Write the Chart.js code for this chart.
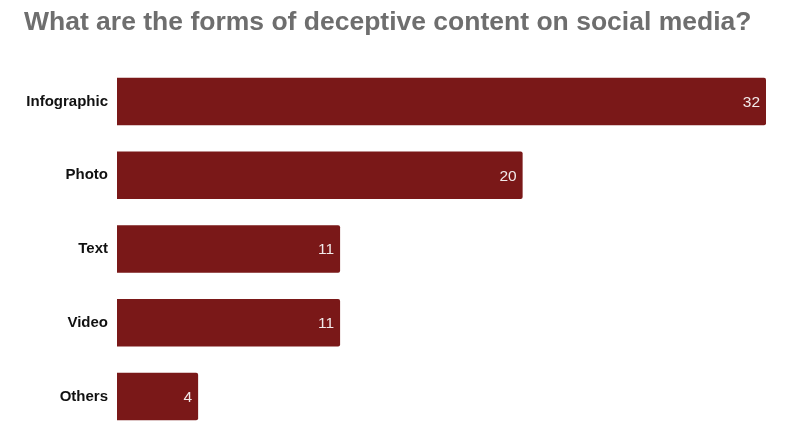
<!DOCTYPE html>
<html>
<head>
<meta charset="utf-8">
<script src="https://cdn.jsdelivr.net/npm/chart.js@4.4.0/dist/chart.umd.min.js"></script>
<style>
  html, body { margin: 0; padding: 0; background: #fff; overflow: hidden; }
</style>
</head>
<body>
<canvas id="mycanvas" width="800" height="441"></canvas>
<script>
var forms = ['Infographic', 'Photo', 'Text', 'Video', 'Others'];
var counts = [32, 20, 11, 11, 4];

// white numbers drawn inside the end of each bar
var valueLabels = {
    id: 'valueLabels',
    afterDatasetsDraw: function (chart) {
        var ctx = chart.ctx;
        var meta = chart.getDatasetMeta(0);
        ctx.save();
        ctx.font = '15.5px "Liberation Sans", Arial, sans-serif';
        ctx.fillStyle = '#f2eaea';
        ctx.textAlign = 'right';
        ctx.textBaseline = 'middle';
        meta.data.forEach(function (bar, i) {
            ctx.fillText(String(counts[i]), bar.x - 6, bar.y + 1);
        });
        ctx.restore();
    }
};

var ctx = document.getElementById('mycanvas');

var barGraph = new Chart(ctx, {
    type: 'bar',
    data: {
        labels: forms,
        datasets: [{
            label: 'Forms',
            data: counts,
            backgroundColor: '#7a1818',
            borderRadius: { topRight: 2, bottomRight: 2 },
            borderSkipped: 'left',
            barPercentage: 0.8,
            categoryPercentage: 0.805
        }]
    },
    options: {
        responsive: false,
        devicePixelRatio: 1,
        indexAxis: 'y',
        animation: false,
        layout: { padding: { left: 24, right: 34, top: 0, bottom: 7.6 } },
        plugins: {
            legend: { display: false },
            tooltip: { enabled: false },
            title: {
                display: true,
                text: 'What are the forms of deceptive content on social media?',
                align: 'start',
                color: '#6e6e6e',
                font: { family: '"Liberation Sans", Arial, sans-serif', size: 26.5, weight: 'bold' },
                padding: { top: 7, bottom: 25.8 }
            }
        },
        scales: {
            x: {
                display: false,
                min: 0,
                max: 32
            },
            y: {
                grid: { display: false, drawTicks: false },
                border: { display: false },
                ticks: {
                    color: '#111',
                    padding: 9,
                    font: { family: '"Liberation Sans", Arial, sans-serif', size: 15, weight: 'bold' }
                },
                afterFit: function (scale) {
                    scale.width = 93;
                    scale.paddingTop = 0;
                    scale.paddingBottom = 0;
                }
            }
        }
    },
    plugins: [valueLabels]
});
</script>
</body>
</html>
